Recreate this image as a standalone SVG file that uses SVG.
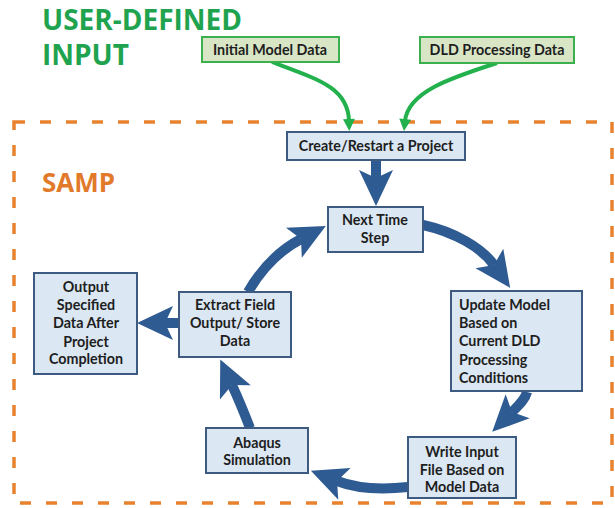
<svg xmlns="http://www.w3.org/2000/svg" width="615" height="508" viewBox="0 0 615 508">
<style>
.title{font-family:"Open Sans","Liberation Sans",sans-serif;font-weight:bold;font-size:28px;fill:#1fa34f}
.samp{font-family:"Open Sans","Liberation Sans",sans-serif;font-weight:bold;font-size:26px;fill:#e27a2c}
.box{fill:#dbe7f3;stroke:#3d5a80;stroke-width:2}
.gbox{fill:#d9e6c6;stroke:#3cb04e;stroke-width:2}
.t{font-family:Lato,"Liberation Sans",sans-serif;font-weight:bold;font-size:14.3px;fill:#1e1e1e;text-anchor:middle}
.tl{text-anchor:start}
.blue{fill:none;stroke:#2f5b93;stroke-width:10;marker-end:url(#bh)}
.green{fill:none;stroke:#22b14c;stroke-width:4;marker-end:url(#gh)}
</style>
<defs>
<marker id="bh" markerUnits="userSpaceOnUse" viewBox="-10 -20 40 40" refX="0" refY="0" markerWidth="40" markerHeight="40" orient="auto" overflow="visible">
<path d="M-8,-17 L28,0 L-8,17 L0,0 Z" fill="#2f5b93"/>
</marker>
<marker id="gh" markerUnits="userSpaceOnUse" viewBox="-6 -8 20 16" refX="0" refY="0" markerWidth="20" markerHeight="16" orient="auto" overflow="visible">
<path d="M-2,-6 L10,0 L-2,6 Z" fill="#22b14c"/>
</marker>
</defs>

<rect x="14" y="122" width="598" height="381" fill="none" stroke="#e8822f" stroke-width="3.5" stroke-dasharray="11,15"/>
<text class="title" x="42" y="30">USER-DEFINED</text>
<text class="title" x="42" y="65">INPUT</text>
<text class="samp" x="42" y="192">SAMP</text>

<g id="connectors">
<path class="green" d="M272,62 C320,80 348,88 349,121"/>
<path class="green" d="M497,63 C450,78 408,92 405,121"/>
<path class="blue" d="M376,160 L376,178"/>
<path class="blue" d="M423,225 C455,232 482,248 494,265"/>
<path class="blue" d="M527,392 C525,400 518,406 512,412"/>
<path class="blue" d="M408,487 C380,490 355,488 337,481"/>
<path class="blue" d="M250,428 C245,415 238,398 232,385"/>
<path class="blue" d="M179,323 L165,323"/>
<path class="blue" d="M248,292 C262,268 280,250 301,239"/>
</g>

<g id="initial">
<rect class="gbox" x="202" y="37" width="137" height="25"/>
<text class="t" x="270" y="55">Initial Model Data</text>
</g>
<g id="dld">
<rect class="gbox" x="420" y="37" width="154" height="26"/>
<text class="t" x="497" y="55">DLD Processing Data</text>
</g>
<g id="create">
<rect class="box" x="287" y="132" width="178" height="28"/>
<text class="t" x="376" y="151">Create/Restart a Project</text>
</g>
<g id="next">
<rect class="box" x="328" y="207" width="95" height="45"/>
<text class="t" x="375" y="225">Next Time</text>
<text class="t" x="375" y="243">Step</text>
</g>
<g id="update">
<rect class="box" x="451" y="291" width="131" height="100"/>
<text class="t tl" x="459" y="310">Update Model</text>
<text class="t tl" x="459" y="328">Based on</text>
<text class="t tl" x="459" y="346">Current DLD</text>
<text class="t tl" x="459" y="365">Processing</text>
<text class="t tl" x="459" y="383">Conditions</text>
</g>
<g id="write">
<rect class="box" x="408" y="437" width="108" height="61"/>
<text class="t" x="462" y="457">Write Input</text>
<text class="t" x="462" y="475">File Based on</text>
<text class="t" x="462" y="492">Model Data</text>
</g>
<g id="abaqus">
<rect class="box" x="206" y="428" width="102" height="45"/>
<text class="t" x="257" y="448">Abaqus</text>
<text class="t" x="257" y="465">Simulation</text>
</g>
<g id="extract">
<rect class="box" x="179" y="292" width="112" height="65"/>
<text class="t" x="235" y="310">Extract Field</text>
<text class="t" x="235" y="328">Output/ Store</text>
<text class="t" x="235" y="346">Data</text>
</g>
<g id="output">
<rect class="box" x="34" y="273" width="103" height="101"/>
<text class="t" x="86" y="292">Output</text>
<text class="t" x="86" y="310">Specified</text>
<text class="t" x="86" y="328">Data After</text>
<text class="t" x="86" y="347">Project</text>
<text class="t" x="86" y="364">Completion</text>
</g>
</svg>
